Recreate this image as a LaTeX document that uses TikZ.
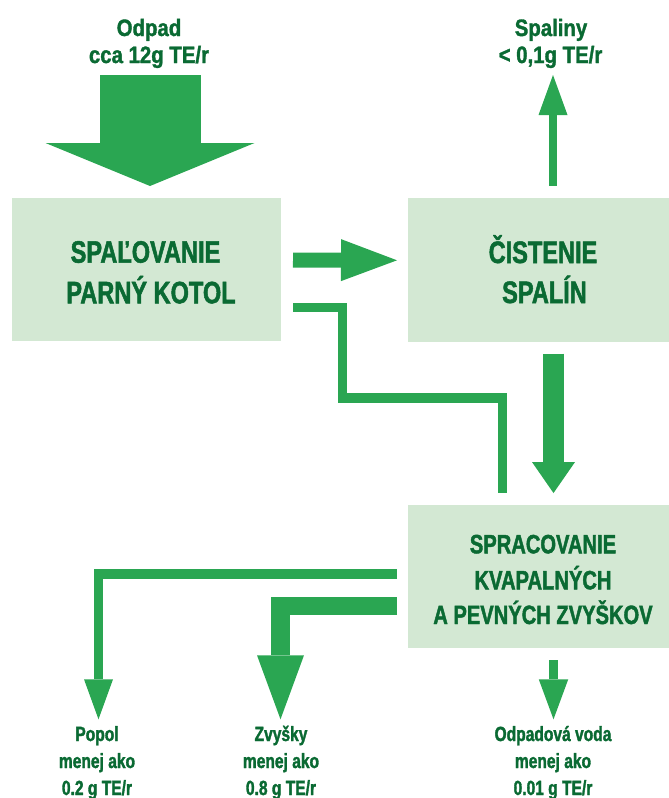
\documentclass[tikz,border=0pt]{standalone}
\usepackage{fontspec}
\setmainfont{Liberation Sans}
\newfontfamily\condfont{Liberation Sans}[FakeStretch=0.76, FakeBold=1.6]
\newfontfamily\wideconfont{Liberation Sans}[FakeStretch=0.86, FakeBold=1.4]
\usetikzlibrary{arrows.meta}
\definecolor{arrowgreen}{HTML}{2AA652}
\definecolor{boxgreen}{HTML}{D3E8D3}
\definecolor{inkgreen}{HTML}{0A6A33}
\tikzset{
  stage/.style={fill=boxgreen, draw=none, inner sep=0pt, outer sep=0pt},
  boxtxt/.style={text=inkgreen, anchor=base, inner sep=0pt,
    font=\condfont\bfseries\fontsize{31pt}{31pt}\selectfont},
  smallboxtxt/.style={boxtxt,
    font=\condfont\bfseries\fontsize{26.5pt}{26.5pt}\selectfont},
  toptxt/.style={text=inkgreen, anchor=base, inner sep=0pt,
    font=\wideconfont\bfseries\fontsize{23.7pt}{23.7pt}\selectfont},
  bottxt/.style={text=inkgreen, anchor=base, inner sep=0pt,
    font=\condfont\bfseries\fontsize{20.5pt}{20.5pt}\selectfont},
  flow/.style={draw=arrowgreen, line cap=butt, line join=miter},
}
\begin{document}
\begin{tikzpicture}[x=1pt,y=-1pt]
\useasboundingbox (0,0) rectangle (669,798);

% process stages
\node[stage, minimum width=269pt, minimum height=143pt] (burn) at (146.5,269.5) {};
\node[stage, minimum width=261pt, minimum height=143.7pt] (clean) at (538.5,269.8) {};
\node[stage, minimum width=261pt, minimum height=143.3pt] (treat) at (538.5,576.7) {};

\node[boxtxt] (burnA) at (145.5,262.7) {SPAĽOVANIE};
\node[boxtxt] (burnB) at (151,303.3) {PARNÝ KOTOL};
\node[boxtxt] (cleanA) at (543,263) {ČISTENIE};
\node[boxtxt] (cleanB) at (544.5,303) {SPALÍN};
\node[smallboxtxt] (treatA) at (543,553.3) {SPRACOVANIE};
\node[smallboxtxt] (treatB) at (543,589.3) {KVAPALNÝCH};
\node[smallboxtxt] (treatC) at (543,624) {A PEVNÝCH ZVYŠKOV};

% inputs and outputs
\node[toptxt] (wasteA) at (149,36) {Odpad};
\node[toptxt] (wasteB) at (149,63) {cca 12g TE/r};
\node[toptxt] (flueA) at (551,36) {Spaliny};
\node[toptxt] (flueB) at (550.5,63) {< 0,1g TE/r};

\node[bottxt] (ashA) at (97,741) {Popol};
\node[bottxt] (ashB) at (97,768) {menej ako};
\node[bottxt] (ashC) at (97,795) {0.2 g TE/r};
\node[bottxt] (resA) at (281,741) {Zvyšky};
\node[bottxt] (resB) at (281,768) {menej ako};
\node[bottxt] (resC) at (281,795) {0.8 g TE/r};
\node[bottxt] (waterA) at (553,741) {Odpadová voda};
\node[bottxt] (waterB) at (553,768) {menej ako};
\node[bottxt] (waterC) at (553,795) {0.01 g TE/r};

\coordinate (wastein) at (150,75);
\coordinate (flueout) at (553,75);
\coordinate (ashout) at (98.5,719.3);
\coordinate (resout) at (280.5,719.3);
\coordinate (waterout) at (553.5,719.3);

% flows
\draw[flow, line width=101pt,
  -{Triangle[length=43pt 0 0, width=209pt 0 0, line width=0pt]}]
  (wastein) -- ([yshift=12pt]wastein |- burn.north);
\draw[flow, line width=15pt,
  -{Triangle[length=56pt 0 0, width=42pt 0 0, line width=0pt]}]
  ([xshift=12pt,yshift=9.5pt]burn.east) -- ([xshift=-11pt,yshift=9.5pt]clean.west);
\draw[flow, line width=9.5pt]
  ([xshift=12pt,yshift=-38pt]burn.east) -- ++(49.5,0) -- ++(0,90.5)
  -| ([xshift=-36pt,yshift=12pt]treat.north);
\draw[flow, line width=8.6pt,
  -{Triangle[length=40pt 0 0, width=29pt 0 0, line width=0pt]}]
  ([xshift=14.5pt,yshift=12pt]clean.north) -- (flueout);
\draw[flow, line width=20.7pt,
  -{Triangle[length=31pt 0 0, width=43pt 0 0, line width=0pt]}]
  ([xshift=15pt,yshift=-12pt]clean.south) -- ([xshift=15pt,yshift=12pt]treat.north);
\draw[flow, line width=9.3pt,
  -{Triangle[length=40pt 0 0, width=29pt 0 0, line width=0pt]}]
  ([xshift=-11pt,yshift=2.7pt]treat.west) -| (ashout);
\draw[flow, line width=18.5pt,
  -{Triangle[length=64pt 0 0, width=47pt 0 0, line width=0pt]}]
  ([xshift=-11pt,yshift=-29.3pt]treat.west) -| (resout);
\draw[flow, line width=9pt,
  -{Triangle[length=40pt 0 0, width=29.5pt 0 0, line width=0pt]}]
  ([xshift=15pt,yshift=-12pt]treat.south) -- (waterout);
\end{tikzpicture}
\end{document}
